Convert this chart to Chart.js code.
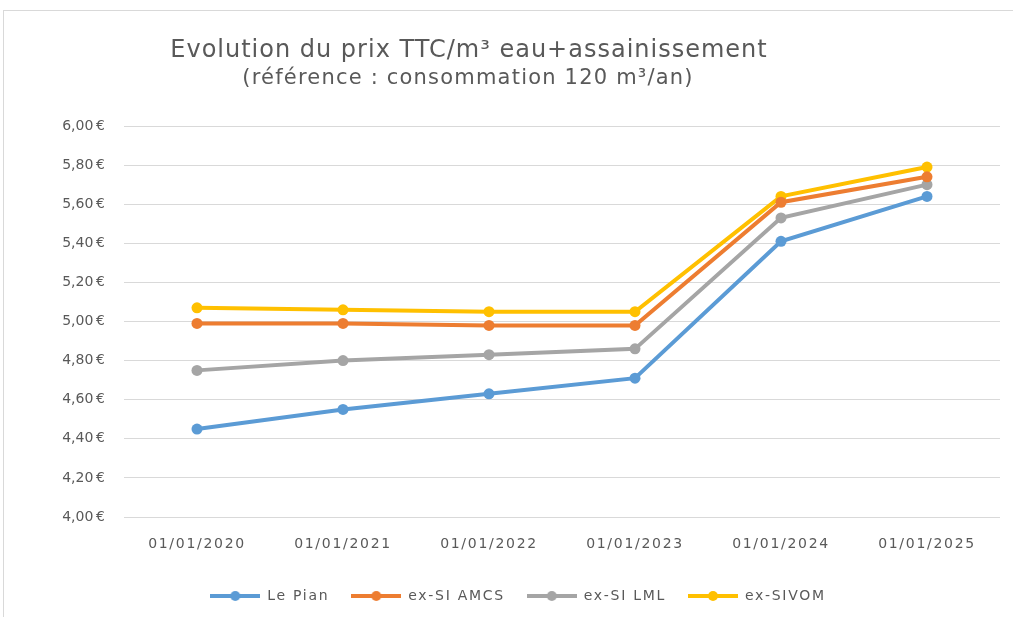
<!DOCTYPE html>
<html>
<head>
<meta charset="utf-8">
<script src="https://cdn.jsdelivr.net/npm/chart.js@4/dist/chart.umd.min.js"></script>
<style>
  html, body { margin: 0; padding: 0; background: #fff; }
  #frame { position: absolute; left: 3px; top: 10px; width: 1020px; height: 620px; border: 1px solid #d9d9d9; box-sizing: border-box; }
  #wrap { position: absolute; left: 0; top: 0; width: 1013px; height: 617px; }
</style>
</head>
<body>
<div id="frame"></div>
<div id="wrap"><canvas id="priceChart" width="1013" height="617"></canvas></div>
<script>
// values
const labels = ['01/01/2020', '01/01/2021', '01/01/2022', '01/01/2023', '01/01/2024', '01/01/2025'];
const lePian = [4.45, 4.55, 4.63, 4.71, 5.41, 5.64];
const exSiAmcs = [4.99, 4.99, 4.98, 4.98, 5.61, 5.74];
const exSiLml = [4.75, 4.80, 4.83, 4.86, 5.53, 5.70];
const exSivom = [5.07, 5.06, 5.05, 5.05, 5.64, 5.79];
const titleLines = ['Evolution du prix TTC/m³ eau+assainissement', '(référence : consommation 120 m³/an)'];

const FONT = "'DejaVu Sans', 'Noto Sans', sans-serif";
const TXT = '#595959';
const SPACING = '1.7px';

function legendIcon(color) {
    const c = document.createElement('canvas');
    c.width = 50; c.height = 12;
    const ctx = c.getContext('2d');
    ctx.strokeStyle = color;
    ctx.lineWidth = 4;
    ctx.beginPath(); ctx.moveTo(0, 6); ctx.lineTo(50, 6); ctx.stroke();
    ctx.fillStyle = color;
    ctx.beginPath(); ctx.arc(25, 6, 5, 0, Math.PI * 2); ctx.fill();
    return c;
}

function series(label, data, color) {
    return {
        label, data,
        borderColor: color, backgroundColor: color,
        borderWidth: 4, pointRadius: 5.5, pointHoverRadius: 5.5, pointBorderWidth: 0,
        pointBackgroundColor: color,
        tension: 0, icon: legendIcon(color)
    };
}

// wide letter spacing for all chart text, like the stretched original
const spacingPlugin = {
    id: 'spacing',
    beforeLayout(chart) { chart.ctx.letterSpacing = SPACING; },
    beforeDraw(chart) { chart.ctx.letterSpacing = SPACING; }
};

const titlePlugin = {
    id: 'titleText',
    afterDraw(chart) {
        const ctx = chart.ctx;
        ctx.save();
        ctx.fillStyle = TXT;
        ctx.textAlign = 'center';
        ctx.textBaseline = 'alphabetic';
        ctx.letterSpacing = '1px';
        ctx.font = `24px ${FONT}`;
        ctx.fillText(titleLines[0], 469, 57);
        ctx.letterSpacing = '1.2px';
        ctx.font = `21px ${FONT}`;
        ctx.fillText(titleLines[1], 468, 84);
        ctx.restore();
    }
};

new Chart(document.getElementById('priceChart'), {
    type: 'line',
    data: {
        labels,
        datasets: [
            series('Le Pian', lePian, '#5B9BD5'),
            series('ex-SI AMCS', exSiAmcs, '#ED7D31'),
            series('ex-SI LML', exSiLml, '#A5A5A5'),
            series('ex-SIVOM', exSivom, '#FFC000')
        ]
    },
    options: {
        responsive: false,
        animation: false,
        layout: { padding: { top: 126, right: 13, bottom: 4, left: 36 } },
        plugins: {
            title: { display: false },
            tooltip: { enabled: false },
            legend: {
                position: 'bottom',
                labels: {
                    usePointStyle: true,
                    pointStyleWidth: 50,
                    color: TXT,
                    font: { family: FONT, size: 14 },
                    padding: 22,
                    generateLabels(chart) {
                        return chart.data.datasets.map((ds, i) => ({
                            text: ds.label,
                            fillStyle: ds.borderColor,
                            strokeStyle: ds.borderColor,
                            fontColor: TXT,
                            pointStyle: ds.icon,
                            datasetIndex: i,
                            hidden: false
                        }));
                    }
                }
            }
        },
        scales: {
            x: {
                offset: true,
                grid: { display: false },
                border: { display: false },
                ticks: { color: TXT, font: { family: FONT, size: 14 }, padding: 11, maxRotation: 0 },
                afterFit(s) { s.height = 50; }
            },
            y: {
                min: 4, max: 6,
                grid: { color: '#d9d9d9', lineWidth: 1, drawTicks: false },
                border: { display: false },
                ticks: {
                    stepSize: 0.2,
                    color: TXT,
                    font: { family: FONT, size: 14 },
                    padding: 19,
                    callback: v => v.toFixed(2).replace('.', ',') + '\u202F€'
                },
                afterFit(s) { s.width = 88; }
            }
        }
    },
    plugins: [spacingPlugin, titlePlugin]
});
</script>
</body>
</html>
